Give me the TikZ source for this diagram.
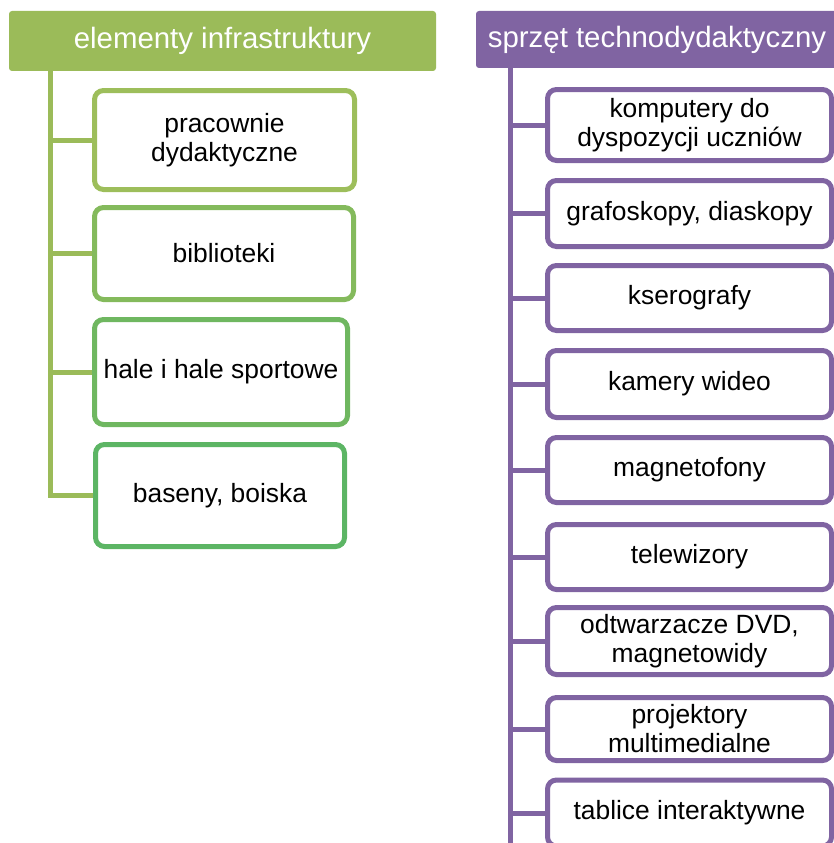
\documentclass[tikz,border=0pt]{standalone}
\usepackage{fontspec}
\setmainfont{Liberation Sans}
\usepackage{tikz}

\definecolor{oliwka}{HTML}{9BBB59}
\definecolor{zielenA}{HTML}{9DBE5B}
\definecolor{zielenB}{HTML}{84BA5C}
\definecolor{zielenC}{HTML}{6FB760}
\definecolor{zielenD}{HTML}{5CB564}
\definecolor{fiolet}{HTML}{8064A2}

\begin{document}
\begin{tikzpicture}[x=1pt,y=-1pt,
  naglowek/.style={fill=#1, text=white, rounded corners=3pt, inner sep=0pt,
    font=\fontsize{29.4}{33}\selectfont},
  pole/.style={draw=#1, line width=5pt, fill=white, rounded corners=9pt, inner sep=0pt,
    align=center, font=\fontsize{26.4}{29}\selectfont},
  linia/.style={draw=#1, line width=5pt}]
\useasboundingbox (0,0) rectangle (834,843);

% elementy infrastruktury
\node[naglowek=oliwka, minimum width=427pt, minimum height=60pt] (infra) at (222.5,41) {elementy infrastruktury};
\node[pole=zielenA, minimum width=260pt, minimum height=99pt] (pracownie) at (224.5,140) {pracownie\\dydaktyczne};
\node[pole=zielenB, minimum width=259pt, minimum height=92pt] (biblioteki) at (224,253.5) {biblioteki};
\node[pole=zielenC, minimum width=253pt, minimum height=105pt] (hale) at (221,372) {hale i hale sportowe};
\node[pole=zielenD, minimum width=249pt, minimum height=102pt] (baseny) at (220,495.5) {baseny, boiska};
\coordinate (infrapien) at (50,71);
\draw[linia=oliwka] (infrapien) |- (pracownie.west);
\draw[linia=oliwka] (infrapien) |- (biblioteki.west);
\draw[linia=oliwka] (infrapien) |- (hale.west);
\draw[linia=oliwka] (infrapien) |- (baseny.west);

% sprzet technodydaktyczny
\node[naglowek=fiolet, minimum width=362pt, minimum height=57pt] (sprzet) at (657,39.5) {sprzęt technodydaktyczny};
\node[pole=fiolet, minimum width=284pt, minimum height=71pt] (komputery) at (689.5,125) {komputery do\\dyspozycji uczniów};
\node[pole=fiolet, minimum width=284pt, minimum height=66pt] (grafoskopy) at (689.5,213.5) {grafoskopy, diaskopy};
\node[pole=fiolet, minimum width=284pt, minimum height=65pt] (kserografy) at (689.5,298) {kserografy};
\node[pole=fiolet, minimum width=284pt, minimum height=67pt] (kamery) at (689.5,384) {kamery wideo};
\node[pole=fiolet, minimum width=284pt, minimum height=65pt] (magnetofony) at (689.5,470) {magnetofony};
\node[pole=fiolet, minimum width=284pt, minimum height=65pt] (telewizory) at (689.5,557) {telewizory};
\node[pole=fiolet, minimum width=284pt, minimum height=67pt] (odtwarzacze) at (689.5,641) {odtwarzacze DVD,\\magnetowidy};
\node[pole=fiolet, minimum width=284pt, minimum height=63pt] (projektory) at (689.5,729) {projektory\\multimedialne};
\node[pole=fiolet, minimum width=284pt, minimum height=66pt] (tablice) at (689.5,813) {tablice interaktywne};
\coordinate (sprzetpien) at (510,68);
\coordinate (sprzetdol) at (510,850);
\draw[linia=fiolet] (sprzetpien) -- (sprzetdol);
\draw[linia=fiolet] (sprzetpien) |- (komputery.west);
\draw[linia=fiolet] (sprzetpien) |- (grafoskopy.west);
\draw[linia=fiolet] (sprzetpien) |- (kserografy.west);
\draw[linia=fiolet] (sprzetpien) |- (kamery.west);
\draw[linia=fiolet] (sprzetpien) |- (magnetofony.west);
\draw[linia=fiolet] (sprzetpien) |- (telewizory.west);
\draw[linia=fiolet] (sprzetpien) |- (odtwarzacze.west);
\draw[linia=fiolet] (sprzetpien) |- (projektory.west);
\draw[linia=fiolet] (sprzetpien) |- (tablice.west);
\end{tikzpicture}
\end{document}
